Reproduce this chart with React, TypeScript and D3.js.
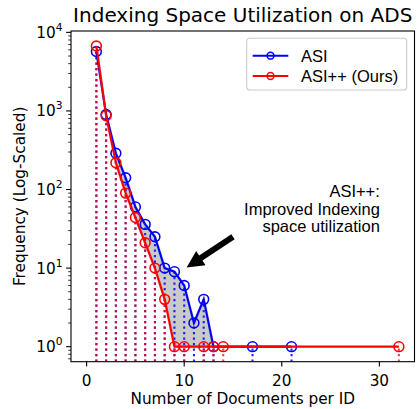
import * as d3 from 'd3';

// data
const asiX = [1, 2, 3, 4, 5, 6, 7, 8, 9, 10, 11, 12, 13, 17, 21];
const asiY = [5700, 900, 289, 141, 60, 36, 25, 10, 9, 6, 2, 4, 1, 1, 1];
const oursX = [1, 2, 3, 4, 5, 6, 7, 8, 9, 10, 12, 13, 14, 32];
const oursY = [6700, 870, 219, 90, 44, 21, 10, 4, 1, 1, 1, 1, 1, 1];

const xTicks = [0, 10, 20, 30];
const yTickExps = [0, 1, 2, 3, 4];
const noteLines = ['ASI++:', 'Improved Indexing', 'space utilization'];
// arrow: tail and tip in data coordinates
const arrowFrom = { x: 15, y: 25 };
const arrowTo = { x: 10.25, y: 10.2 };

const W = 417;
const H = 409;
const m = { left: 71, right: 414.5, top: 31, bottom: 361.7 };
const FONT = '"DejaVu Sans", sans-serif';
const ARIAL = '"Liberation Sans", Arial, sans-serif';

export default function App() {
  const x = d3.scaleLinear().domain([-1.6, 33.6]).range([m.left, m.right]);

  // matplotlib style log autoscale: 5% margin in log space
  const lmax = Math.log10(d3.max([...asiY, ...oursY])!);
  const pad = lmax * 0.05;
  const y = d3
    .scaleLog()
    .domain([Math.pow(10, -pad), Math.pow(10, lmax + pad)])
    .range([m.bottom, m.top]);

  const asi = asiX.map((v, i) => ({ x: v, y: asiY[i] }));
  const ours = oursX.map((v, i) => ({ x: v, y: oursY[i] }));

  const line = d3
    .line<{ x: number; y: number }>()
    .x((d) => x(d.x))
    .y((d) => y(d.y));

  // shaded gap between the two curves where ASI has values
  const lastAsi = 13;
  const fillPts = [
    ...asi.filter((d) => d.x <= lastAsi),
    ...ours.filter((d) => d.x <= lastAsi).reverse(),
  ];
  const fillPath = line(fillPts) + 'Z';

  const minorTicks: number[] = [];
  for (let e = -1; e <= 4; e++) {
    for (let k = 2; k <= 9; k++) {
      const v = k * Math.pow(10, e);
      if (v >= y.domain()[0] && v <= y.domain()[1]) minorTicks.push(v);
    }
  }

  // arrow polygon
  const ax0 = x(arrowFrom.x);
  const ay0 = y(arrowFrom.y);
  const ax1 = x(arrowTo.x);
  const ay1 = y(arrowTo.y);
  const len = Math.hypot(ax1 - ax0, ay1 - ay0);
  const ux = (ax1 - ax0) / len;
  const uy = (ay1 - ay0) / len;
  const nx = -uy;
  const ny = ux;
  const sw = 3, hw = 8.5, hl = 17;
  const bx = ax1 - ux * hl;
  const by = ay1 - uy * hl;
  const arrowPts = [
    [ax0 + nx * sw, ay0 + ny * sw],
    [bx + nx * sw, by + ny * sw],
    [bx + nx * hw, by + ny * hw],
    [ax1, ay1],
    [bx - nx * hw, by - ny * hw],
    [bx - nx * sw, by - ny * sw],
    [ax0 - nx * sw, ay0 - ny * sw],
  ]
    .map((p) => p.join(','))
    .join(' ');

  const noteX = x(30.05);
  const noteY = y(80);

  return (
    <svg
      width={W}
      height={H}
      style={{ position: 'absolute', left: 0, top: 0, background: '#fff' }}
    >
      <defs>
        <clipPath id="plot">
          <rect x={m.left} y={m.top} width={m.right - m.left} height={m.bottom - m.top} />
        </clipPath>
      </defs>

      {/* title */}
      <text x={(m.left + m.right) / 2} y={22} textAnchor="middle" fontFamily={FONT} fontSize={20}>
        Indexing Space Utilization on ADS
      </text>

      <g clipPath="url(#plot)">
        <path d={fillPath} fill="#808080" fillOpacity={0.42} stroke="#808080" strokeOpacity={0.3} strokeWidth={3} />

        {/* dotted drop lines */}
        {asi.map((d, i) => (
          <line
            key={'va' + i}
            x1={x(d.x)}
            x2={x(d.x)}
            y1={m.bottom}
            y2={y(d.y)}
            stroke="#0000ff"
            strokeWidth={2.1}
            strokeDasharray="2.1,3.4"
            strokeOpacity={0.85}
          />
        ))}
        {ours.map((d, i) => (
          <line
            key={'vo' + i}
            x1={x(d.x)}
            x2={x(d.x)}
            y1={m.bottom}
            y2={y(d.y)}
            stroke="#ff0000"
            strokeWidth={2.1}
            strokeDasharray="2.1,3.4"
            strokeOpacity={0.75}
          />
        ))}

        <path d={line(asi)!} fill="none" stroke="#0000ff" strokeWidth={2.1} />
        {asi.map((d, i) => (
          <circle key={'ca' + i} cx={x(d.x)} cy={y(d.y)} r={4.9} fill="none" stroke="#0000ff" strokeWidth={1.6} />
        ))}
        <path d={line(ours)!} fill="none" stroke="#ff0000" strokeWidth={2.1} />
        {ours.map((d, i) => (
          <circle key={'co' + i} cx={x(d.x)} cy={y(d.y)} r={4.9} fill="none" stroke="#ff0000" strokeWidth={1.6} />
        ))}
      </g>

      {/* annotation */}
      <polygon points={arrowPts} fill="#000" />
      {noteLines.map((t, i) => (
        <text key={t} x={noteX} y={noteY + i * 17.5} textAnchor="end" fontFamily={ARIAL} fontSize={16.5}>
          {t}
        </text>
      ))}

      {/* spines */}
      <rect
        x={m.left}
        y={m.top}
        width={m.right - m.left}
        height={m.bottom - m.top}
        fill="none"
        stroke="#000"
        strokeWidth={1.1}
      />

      {/* x axis */}
      {xTicks.map((t) => (
        <g key={'xt' + t}>
          <line x1={x(t)} x2={x(t)} y1={m.bottom} y2={m.bottom + 4.9} stroke="#000" strokeWidth={1.1} />
          <text x={x(t)} y={385.5} textAnchor="middle" fontFamily={FONT} fontSize={15.3}>
            {t}
          </text>
        </g>
      ))}
      <text x={(m.left + m.right) / 2} y={404} textAnchor="middle" fontFamily={FONT} fontSize={15.3}>
        Number of Documents per ID
      </text>

      {/* y axis */}
      {minorTicks.map((t, i) => (
        <line key={'ym' + i} x1={m.left} x2={m.left - 2.8} y1={y(t)} y2={y(t)} stroke="#000" strokeWidth={0.8} />
      ))}
      {yTickExps.map((e) => (
        <g key={'yt' + e}>
          <line x1={m.left} x2={m.left - 4.9} y1={y(Math.pow(10, e))} y2={y(Math.pow(10, e))} stroke="#000" strokeWidth={1.1} />
          <text x={62.5} y={y(Math.pow(10, e)) + 5.5} textAnchor="end" fontFamily={FONT} fontSize={15.3}>
            10
            <tspan dy={-7} fontSize={10.7}>
              {e}
            </tspan>
          </text>
        </g>
      ))}
      <text
        transform={`translate(25,${(m.top + m.bottom) / 2}) rotate(-90)`}
        textAnchor="middle"
        fontFamily={FONT}
        fontSize={15.3}
      >
        Frequency (Log-Scaled)
      </text>

      {/* legend */}
      <g>
        <rect x={246.7} y={38.3} width={160} height={51.7} rx={3} fill="#fff" fillOpacity={0.8} stroke="#cccccc" strokeWidth={1.1} />
        {[
          { label: 'ASI', color: '#0000ff', cy: 55.7 },
          { label: 'ASI++ (Ours)', color: '#ff0000', cy: 76 },
        ].map((it) => (
          <g key={it.label}>
            <line x1={252.7} x2={288.3} y1={it.cy} y2={it.cy} stroke={it.color} strokeWidth={2.1} />
            <circle cx={270.5} cy={it.cy} r={3.4} fill="none" stroke={it.color} strokeWidth={1.5} />
            <text x={301} y={it.cy + 5.8} fontFamily={ARIAL} fontSize={16.5}>
              {it.label}
            </text>
          </g>
        ))}
      </g>
    </svg>
  );
}
